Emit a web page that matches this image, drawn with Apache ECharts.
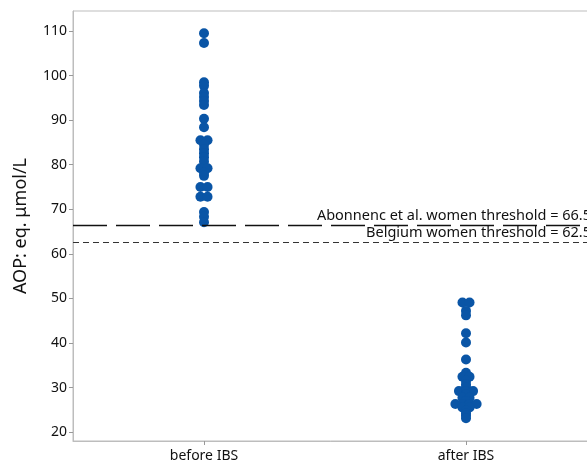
<!DOCTYPE html>
<html>
<head>
<meta charset="utf-8">
<script src="https://cdn.jsdelivr.net/npm/echarts@6/dist/echarts.min.js"></script>
<style>
    html, body { margin: 0; padding: 0; background: #fff; }
    #main { width: 587px; height: 464px; }
</style>
</head>
<body>
<div id="main"></div>
<script>
var groups = ["before IBS", "after IBS"];
// 同值重复出现的点并排显示
var beforeValues = [109.5, 107.3, 98.5, 97.7, 96.1, 95.2, 94.3, 93.4, 90.3, 88.4,
    85.5, 85.5, 84.5, 83.5, 82.6, 81.7, 80.7, 79.2, 79.2, 78.2, 77.5,
    75.0, 75.0, 72.8, 72.8, 69.4, 68.3, 67.1];
var afterValues = [49.1, 49.1, 47.2, 46.2, 42.2, 40.1, 36.3, 33.3, 32.4, 32.4,
    31.5, 30.7, 30.0, 29.2, 29.2, 29.2, 28.5, 27.7, 27.7, 27.0,
    26.3, 26.3, 26.3, 26.3, 25.5, 25.5, 24.8, 24.2, 23.7, 23.1];
var yTicks = [20, 30, 40, 50, 60, 70, 80, 90, 100, 110];
var thresholds = [
    { name: "Abonnenc et al. women threshold", value: 66.5 },
    { name: "Belgium women threshold", value: 62.5 }
];

function layout(values, center) {
    var count = {}, seen = {};
    values.forEach(function (v) { count[v] = (count[v] || 0) + 1; });
    return values.map(function (v) {
        var i = seen[v] || 0;
        seen[v] = i + 1;
        return [center + (i - (count[v] - 1) / 2) * 0.027, v];
    });
}

var dots = layout(beforeValues, 0.5).concat(layout(afterValues, 1.5));

var font = "Noto Sans";
var myChart = echarts.init(document.getElementById('main'));
var option = {
    animation: false,
    textStyle: { fontFamily: font },
    grid: {
        left: 73,
        top: 11,
        right: -10,
        bottom: 23,
        outerBoundsMode: 'none',
        containLabel: false,
        show: true,
        borderColor: '#bdbdbd',
        borderWidth: 1
    },
    xAxis: [
        {
            type: 'category',
            data: groups,
            axisLine: { show: true, lineStyle: { color: '#bdbdbd' } },
            axisTick: { show: true, alignWithLabel: true, length: 4, lineStyle: { color: '#999' } },
            axisLabel: { color: '#111', fontSize: 14, margin: 8, fontFamily: font },
            splitLine: { show: false }
        },
        {
            type: 'value',
            min: 0,
            max: 2,
            show: false,
            splitLine: { show: false }
        }
    ],
    yAxis: {
        type: 'value',
        min: 18,
        max: 114.5,
        name: 'AOP: eq. μmol/L',
        nameLocation: 'middle',
        nameGap: 43,
        nameTextStyle: { color: '#111', fontSize: 18, fontFamily: font },
        axisLine: { show: true, lineStyle: { color: '#bdbdbd' } },
        axisTick: { show: true, length: 4, customValues: yTicks, lineStyle: { color: '#999' } },
        axisLabel: { color: '#111', fontSize: 14, margin: 6, customValues: yTicks, fontFamily: font },
        splitLine: { show: false }
    },
    series: [
        {
            type: 'scatter',
            xAxisIndex: 1,
            symbolSize: 10,
            data: dots,
            itemStyle: { color: '#0a55a6', opacity: 1 },
            markLine: {
                silent: true,
                symbol: 'none',
                data: [
                    {
                        yAxis: thresholds[0].value,
                        lineStyle: { color: '#111', width: 1.3, type: [34, 9] },
                        label: {
                            formatter: thresholds[0].name + ' = ' + thresholds[0].value
                        }
                    },
                    {
                        yAxis: thresholds[1].value,
                        lineStyle: { color: '#333', width: 1.2, type: [6, 4] },
                        label: {
                            formatter: thresholds[1].name + ' = ' + thresholds[1].value
                        }
                    }
                ],
                label: {
                    show: true,
                    position: 'insideEndTop',
                    distance: [6, 2],
                    color: '#111',
                    fontSize: 14.5,
                    fontFamily: font
                }
            }
        }
    ]
};
myChart.setOption(option);
window.addEventListener("resize", function () {
    myChart.resize();
});
</script>
</body>
</html>
